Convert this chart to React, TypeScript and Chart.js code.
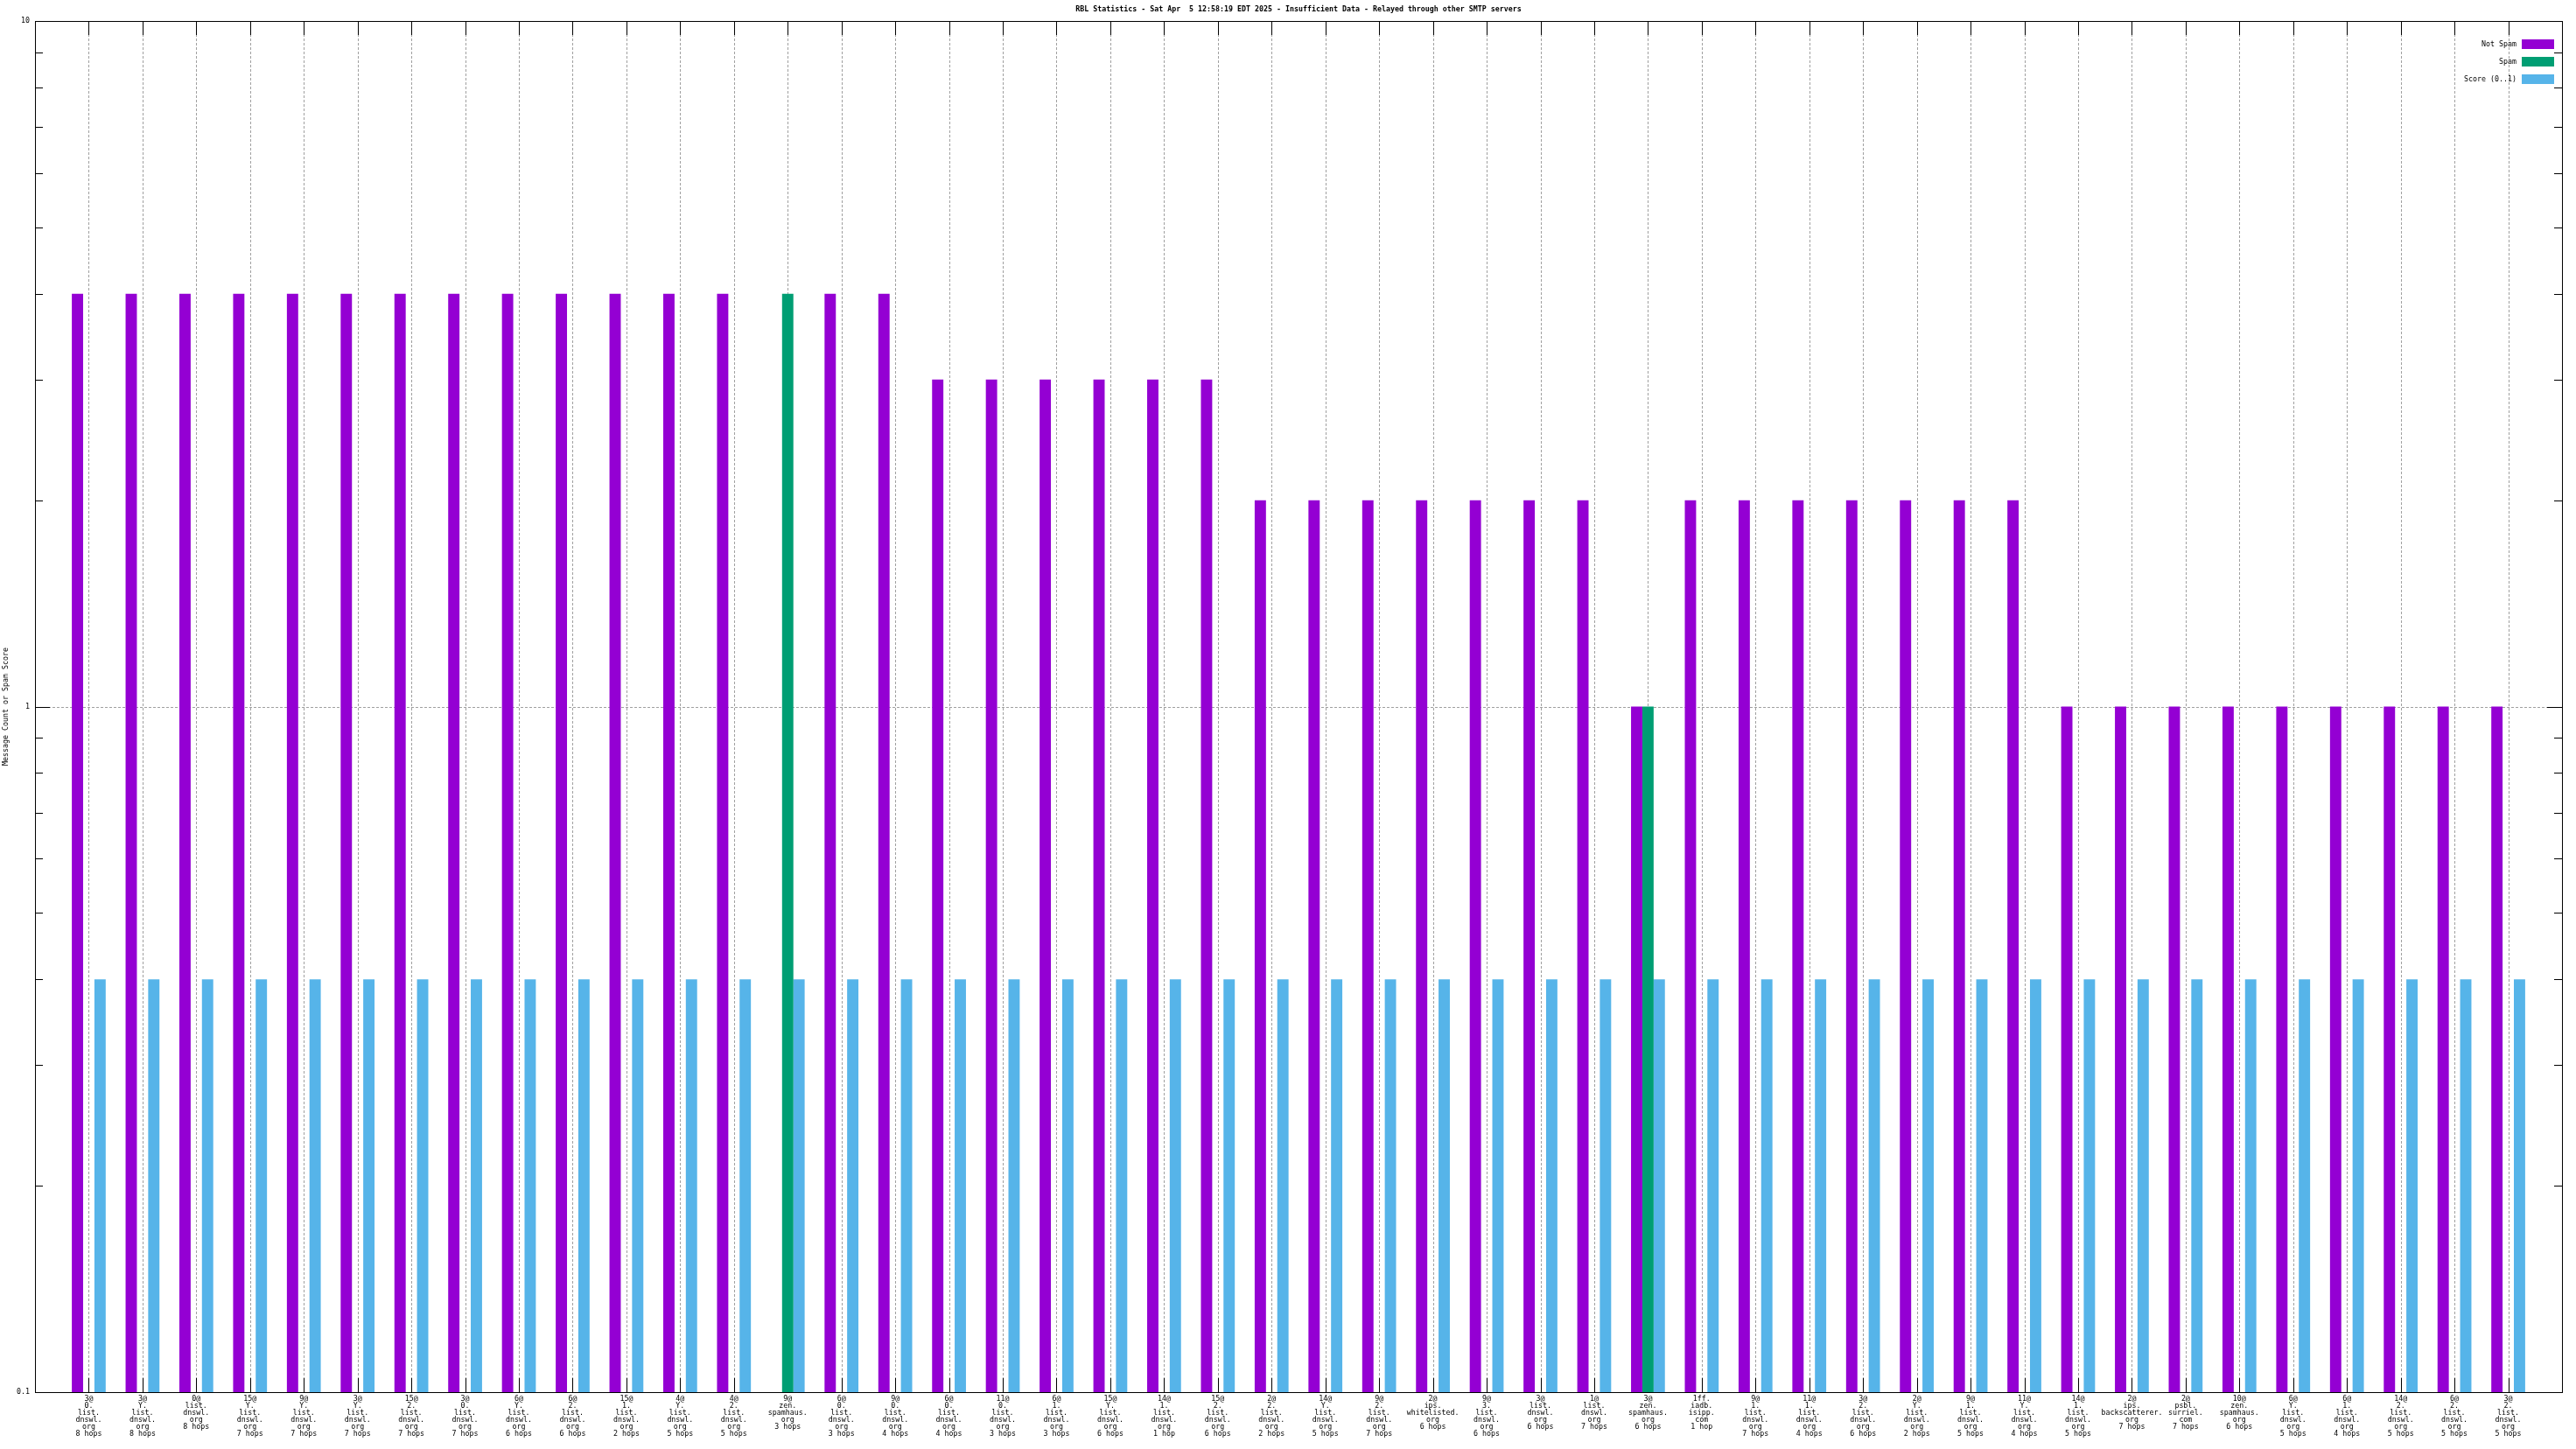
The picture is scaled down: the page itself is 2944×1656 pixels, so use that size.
import React, { useEffect, useRef } from 'react';
import { Chart, registerables } from 'chart.js';

Chart.register(...registerables);

const TITLE =
  'RBL Statistics - Sat Apr  5 12:58:19 EDT 2025 - Insufficient Data - Relayed through other SMTP servers';
const Y_TITLE = 'Message Count or Spam Score';

const CATEGORIES: string[][] = [
  ['3@', '0.', 'list.', 'dnswl.', 'org', '8 hops'],
  ['3@', 'Y.', 'list.', 'dnswl.', 'org', '8 hops'],
  ['0@', 'list.', 'dnswl.', 'org', '8 hops'],
  ['15@', 'Y.', 'list.', 'dnswl.', 'org', '7 hops'],
  ['9@', 'Y.', 'list.', 'dnswl.', 'org', '7 hops'],
  ['3@', 'Y.', 'list.', 'dnswl.', 'org', '7 hops'],
  ['15@', '2.', 'list.', 'dnswl.', 'org', '7 hops'],
  ['3@', '0.', 'list.', 'dnswl.', 'org', '7 hops'],
  ['6@', 'Y.', 'list.', 'dnswl.', 'org', '6 hops'],
  ['6@', '2.', 'list.', 'dnswl.', 'org', '6 hops'],
  ['15@', '1.', 'list.', 'dnswl.', 'org', '2 hops'],
  ['4@', 'Y.', 'list.', 'dnswl.', 'org', '5 hops'],
  ['4@', '2.', 'list.', 'dnswl.', 'org', '5 hops'],
  ['9@', 'zen.', 'spamhaus.', 'org', '3 hops'],
  ['6@', '0.', 'list.', 'dnswl.', 'org', '3 hops'],
  ['9@', '0.', 'list.', 'dnswl.', 'org', '4 hops'],
  ['6@', '0.', 'list.', 'dnswl.', 'org', '4 hops'],
  ['11@', '0.', 'list.', 'dnswl.', 'org', '3 hops'],
  ['6@', '1.', 'list.', 'dnswl.', 'org', '3 hops'],
  ['15@', 'Y.', 'list.', 'dnswl.', 'org', '6 hops'],
  ['14@', '1.', 'list.', 'dnswl.', 'org', '1 hop'],
  ['15@', '2.', 'list.', 'dnswl.', 'org', '6 hops'],
  ['2@', '2.', 'list.', 'dnswl.', 'org', '2 hops'],
  ['14@', 'Y.', 'list.', 'dnswl.', 'org', '5 hops'],
  ['9@', '2.', 'list.', 'dnswl.', 'org', '7 hops'],
  ['2@', 'ips.', 'whitelisted.', 'org', '6 hops'],
  ['9@', '3.', 'list.', 'dnswl.', 'org', '6 hops'],
  ['3@', 'list.', 'dnswl.', 'org', '6 hops'],
  ['1@', 'list.', 'dnswl.', 'org', '7 hops'],
  ['3@', 'zen.', 'spamhaus.', 'org', '6 hops'],
  ['1ff.', 'iadb.', 'isipp.', 'com', '1 hop'],
  ['9@', '1.', 'list.', 'dnswl.', 'org', '7 hops'],
  ['11@', '1.', 'list.', 'dnswl.', 'org', '4 hops'],
  ['3@', '2.', 'list.', 'dnswl.', 'org', '6 hops'],
  ['2@', 'Y.', 'list.', 'dnswl.', 'org', '2 hops'],
  ['9@', '1.', 'list.', 'dnswl.', 'org', '5 hops'],
  ['11@', 'Y.', 'list.', 'dnswl.', 'org', '4 hops'],
  ['14@', '1.', 'list.', 'dnswl.', 'org', '5 hops'],
  ['2@', 'ips.', 'backscatterer.', 'org', '7 hops'],
  ['2@', 'psbl.', 'surriel.', 'com', '7 hops'],
  ['10@', 'zen.', 'spamhaus.', 'org', '6 hops'],
  ['6@', 'Y.', 'list.', 'dnswl.', 'org', '5 hops'],
  ['6@', '1.', 'list.', 'dnswl.', 'org', '4 hops'],
  ['14@', '2.', 'list.', 'dnswl.', 'org', '5 hops'],
  ['6@', '2.', 'list.', 'dnswl.', 'org', '5 hops'],
  ['3@', '2.', 'list.', 'dnswl.', 'org', '5 hops'],
];

const NOT_SPAM: (number | null)[] = [
  4, 4, 4, 4, 4, 4, 4, 4, 4, 4, 4, 4, 4,
  null,
  4, 4,
  3, 3, 3, 3, 3, 3,
  2, 2, 2, 2, 2, 2, 2,
  1,
  2, 2, 2, 2, 2, 2, 2,
  1, 1, 1, 1, 1, 1, 1, 1, 1,
];

const SPAM: (number | null)[] = [
  null, null, null, null, null, null, null, null, null, null, null, null, null,
  4,
  null, null,
  null, null, null, null, null, null,
  null, null, null, null, null, null, null,
  1,
  null, null, null, null, null, null, null,
  null, null, null, null, null, null, null, null, null,
];

const SCORE: number[] = [
  0.4, 0.4, 0.4, 0.4, 0.4, 0.4, 0.4, 0.4, 0.4, 0.4, 0.4, 0.4, 0.4,
  0.4,
  0.4, 0.4,
  0.4, 0.4, 0.4, 0.4, 0.4, 0.4,
  0.4, 0.4, 0.4, 0.4, 0.4, 0.4, 0.4,
  0.4,
  0.4, 0.4, 0.4, 0.4, 0.4, 0.4, 0.4,
  0.4, 0.4, 0.4, 0.4, 0.4, 0.4, 0.4, 0.4, 0.4,
];

const SERIES_NAMES = ['Not Spam', 'Spam', 'Score (0..1)'];
const SERIES_COLORS = ['#9400d3', '#009e73', '#56b4e9'];

const Y_TICKS = [0.1, 1, 10];
const Y_TICK_LABELS = ['0.1', '1', '10'];
const Y_MINOR = [0.2, 0.3, 0.4, 0.5, 0.6, 0.7, 0.8, 0.9, 2, 3, 4, 5, 6, 7, 8, 9];
const Y_GRID = [1];

const FONT_FAMILY = "'DejaVu Sans Mono', 'Liberation Mono', monospace";
const FONT_SIZE = 8.3;
const FONT = { family: FONT_FAMILY, size: FONT_SIZE, lineHeight: '8px' as any };

// pad so that the first/last category sit one slot inside the frame (gnuplot xrange [-1:N])
const pad = <T,>(arr: T[]): (T | null)[] => [null, ...arr, null];

const gnuFrame = {
  id: 'gnuFrame',
  beforeDatasetsDraw(chart: any) {
    const { ctx, chartArea: a, scales } = chart;
    const x = scales.x;
    const y = scales.y;
    const line = (x1: number, y1: number, x2: number, y2: number) => {
      ctx.beginPath();
      ctx.moveTo(x1, y1);
      ctx.lineTo(x2, y2);
      ctx.stroke();
    };
    ctx.save();
    ctx.lineWidth = 1;
    ctx.strokeStyle = '#a0a0a0';
    ctx.setLineDash([3, 2]);
    for (let i = 1; i <= CATEGORIES.length; i++) {
      const px = Math.round(x.getPixelForValue(i)) + 0.5;
      line(px, a.top, px, a.bottom);
    }
    Y_GRID.forEach((v) => {
      const py = Math.round(y.getPixelForValue(v)) + 0.5;
      line(a.left, py, a.right, py);
    });
    ctx.setLineDash([]);
    ctx.strokeStyle = '#000';
    for (let i = 1; i <= CATEGORIES.length; i++) {
      const px = Math.round(x.getPixelForValue(i)) + 0.5;
      line(px, a.bottom, px, a.bottom - 16);
      line(px, a.top, px, a.top + 16);
    }
    Y_TICKS.forEach((v) => {
      const py = Math.round(y.getPixelForValue(v)) + 0.5;
      line(a.left, py, a.left + 17, py);
      line(a.right, py, a.right - 17, py);
    });
    Y_MINOR.forEach((v) => {
      const py = Math.round(y.getPixelForValue(v)) + 0.5;
      line(a.left, py, a.left + 9, py);
      line(a.right, py, a.right - 9, py);
    });
    ctx.restore();
  },
  afterDatasetsDraw(chart: any) {
    const { ctx, chartArea: a } = chart;
    ctx.save();
    ctx.lineWidth = 1;
    ctx.strokeStyle = '#000';
    ctx.strokeRect(
      Math.round(a.left) + 0.5,
      Math.round(a.top) + 0.5,
      Math.round(a.right - a.left),
      Math.round(a.bottom - a.top)
    );
    // key (legend) inside the top-right corner
    ctx.font = `${FONT_SIZE}px ${FONT_FAMILY}`;
    ctx.textAlign = 'right';
    ctx.textBaseline = 'middle';
    chart.data.datasets.forEach((ds: any, i: number) => {
      const cy = a.top + 26.5 + i * 20;
      ctx.fillStyle = ds.backgroundColor;
      ctx.fillRect(a.right - 46, cy - 5.5, 37, 11);
      ctx.fillStyle = '#000';
      ctx.fillText(ds.label, a.right - 52, cy + 0.5);
    });
    ctx.restore();
  },
};

export default function App() {
  const ref = useRef<HTMLCanvasElement | null>(null);

  useEffect(() => {
    if (!ref.current) return;
    const labels = pad(CATEGORIES).map((c) => (c === null ? '' : c));
    const series = [NOT_SPAM, SPAM, SCORE];
    const chart = new Chart(ref.current, {
      type: 'bar',
      data: {
        labels: labels as any,
        datasets: series.map((d, i) => ({
          label: SERIES_NAMES[i],
          data: pad(d as (number | null)[]),
          backgroundColor: SERIES_COLORS[i],
          borderWidth: 0,
          barPercentage: 1,
          categoryPercentage: 0.63,
        })),
      },
      options: {
        responsive: false,
        animation: false,
        events: [],
        layout: { padding: { left: 0, right: 16, top: 0, bottom: 0 } },
        plugins: {
          legend: { display: false },
          tooltip: { enabled: false },
          title: {
            display: true,
            text: TITLE,
            fullSize: false,
            color: '#000',
            font: FONT,
            padding: { top: 7, bottom: 9 },
          },
        },
        scales: {
          x: {
            type: 'category',
            offset: false,
            grid: { display: false, drawTicks: false },
            border: { display: false },
            ticks: {
              autoSkip: false,
              maxRotation: 0,
              minRotation: 0,
              padding: 4,
              color: '#000',
              font: FONT,
            },
            afterFit: (s: any) => {
              s.height = 65;
            },
          },
          y: {
            type: 'logarithmic',
            min: 0.1,
            max: 10,
            grid: { display: false, drawTicks: false },
            border: { display: false },
            ticks: {
              padding: 6,
              color: '#000',
              font: FONT,
              callback: (v: any) => {
                const k = Y_TICKS.findIndex((t) => Math.abs(t - Number(v)) < 1e-9);
                return k >= 0 ? Y_TICK_LABELS[k] : '';
              },
            },
            afterBuildTicks: (s: any) => {
              s.ticks = Y_TICKS.map((v) => ({ value: v }));
            },
            afterFit: (s: any) => {
              s.width = 40;
            },
            title: {
              display: true,
              text: Y_TITLE,
              color: '#000',
              font: FONT,
              padding: { top: 3, bottom: 0 },
            },
          },
        },
      },
      plugins: [gnuFrame],
    } as any);
    return () => chart.destroy();
  }, []);

  return (
    <div style={{ position: 'fixed', left: 0, top: 0, width: 2944, height: 1656, background: '#fff' }}>
      <canvas ref={ref} width={2944} height={1656} style={{ display: 'block', width: 2944, height: 1656 }} />
    </div>
  );
}
